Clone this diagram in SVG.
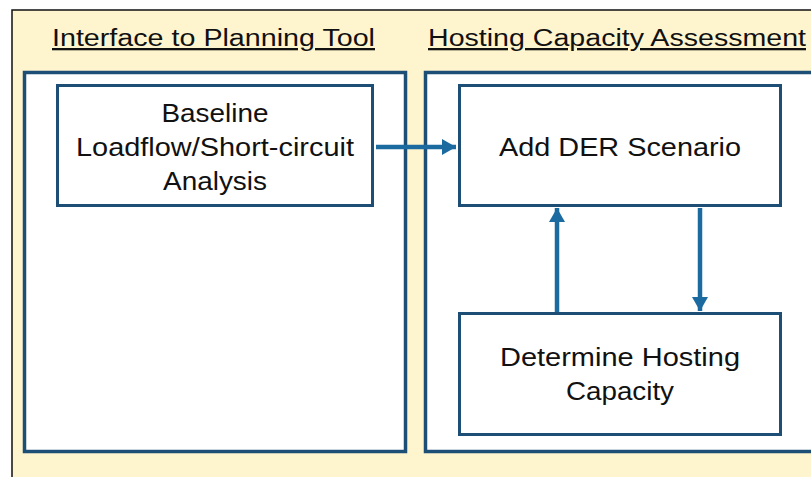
<svg xmlns="http://www.w3.org/2000/svg" width="811" height="477" viewBox="0 0 811 477">
  <defs>
    <marker id="ah" markerUnits="userSpaceOnUse" markerWidth="14" markerHeight="16" viewBox="0 0 14 16" refX="14" refY="8" orient="auto">
      <path d="M0,0 L14,8 L0,16 Z" fill="#1b6aa0"/>
    </marker>
  </defs>
  <style>
    .bg { fill: #fef5cf; stroke: #111; stroke-width: 1.5; }
    .panel { fill: #ffffff; stroke: #1d4e75; stroke-width: 3.5; }
    .box { fill: #ffffff; stroke: #1d4e75; stroke-width: 3; }
    .title { font-family: "Liberation Sans", Arial, sans-serif; font-size: 23px; fill: #111; text-decoration: underline; }
    .lbl { font-family: "Liberation Sans", Arial, sans-serif; font-size: 25px; fill: #111; text-anchor: middle; }
    .conn { stroke: #1b6aa0; stroke-width: 4.5; fill: none; marker-end: url(#ah); }
  </style>
  <rect class="bg" x="12" y="10" width="820" height="480"/>
  <g id="title-left">
    <text class="title" x="52" y="46" textLength="323" lengthAdjust="spacingAndGlyphs">Interface to Planning Tool</text>
  </g>
  <g id="title-right">
    <text class="title" x="428" y="46" textLength="378" lengthAdjust="spacingAndGlyphs">Hosting Capacity Assessment</text>
  </g>
  <g id="panel-left">
    <rect class="panel" x="24.5" y="72.5" width="381" height="379"/>
  </g>
  <g id="panel-right">
    <rect class="panel" x="425.5" y="72.5" width="420" height="379"/>
  </g>
  <g id="baseline">
    <rect class="box" x="57.5" y="85.5" width="315" height="120"/>
    <text class="lbl" x="215" y="122" textLength="107" lengthAdjust="spacingAndGlyphs">Baseline</text>
    <text class="lbl" x="215" y="156" textLength="278" lengthAdjust="spacingAndGlyphs">Loadflow/Short-circuit</text>
    <text class="lbl" x="215" y="190" textLength="104" lengthAdjust="spacingAndGlyphs">Analysis</text>
  </g>
  <g id="add-der">
    <rect class="box" x="459.5" y="85.5" width="321" height="120"/>
    <text class="lbl" x="620" y="156" textLength="242" lengthAdjust="spacingAndGlyphs">Add DER Scenario</text>
  </g>
  <g id="determine">
    <rect class="box" x="459.5" y="313.5" width="321" height="121"/>
    <text class="lbl" x="620" y="366" textLength="240" lengthAdjust="spacingAndGlyphs">Determine Hosting</text>
    <text class="lbl" x="620" y="400" textLength="108" lengthAdjust="spacingAndGlyphs">Capacity</text>
  </g>
  <g id="connectors">
    <line class="conn" x1="376" y1="147" x2="456" y2="147"/>
    <line class="conn" x1="557" y1="312" x2="557" y2="208"/>
    <line class="conn" x1="700" y1="208" x2="700" y2="311"/>
  </g>
</svg>
